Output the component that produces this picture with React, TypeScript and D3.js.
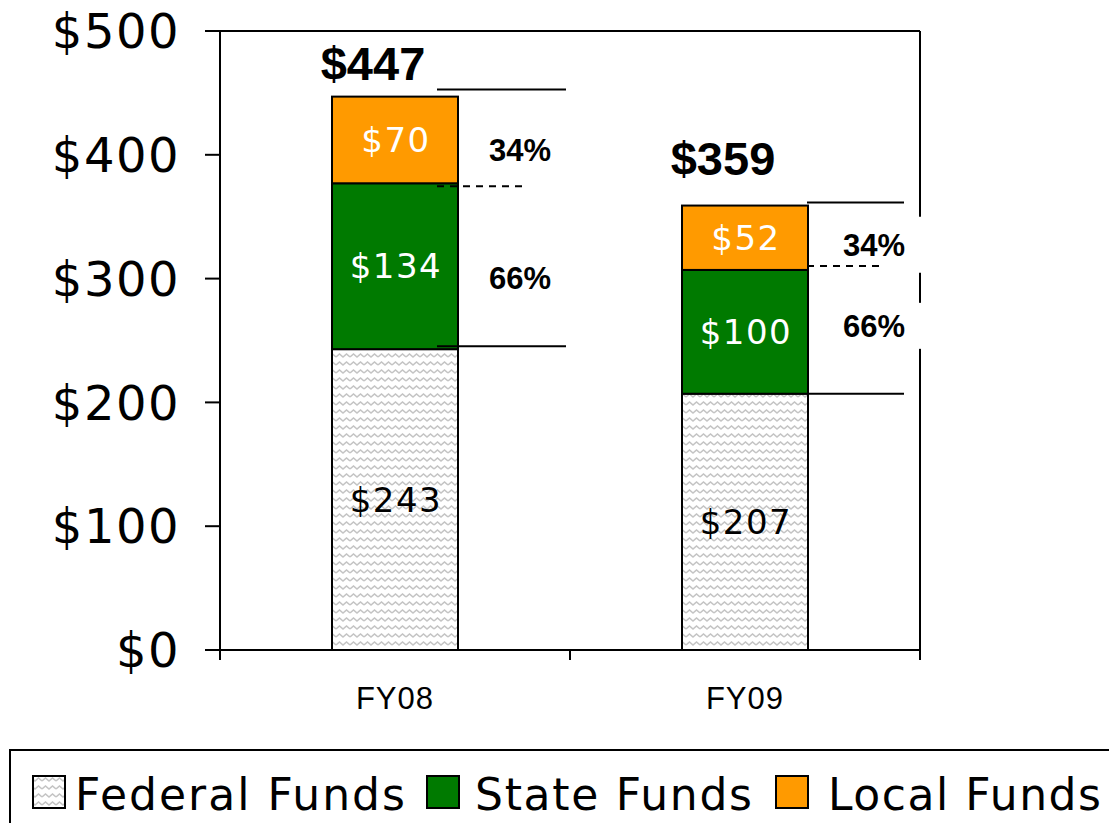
import * as d3 from 'd3'

const categories = ['FY08', 'FY09'];
const federal = [243, 207];
const stateFunds = [134, 100];
const local = [70, 52];
const totalLabels = ['$447', '$359'];
const localPct = ['34%', '34%'];
const statePct = ['66%', '66%'];
const yTicks = [0, 100, 200, 300, 400, 500];
const seriesNames = ['Federal Funds', 'State Funds', 'Local Funds'];
const seriesKeys = ['federal', 'state', 'local'];

function App() {
  const width = 1109;
  const height = 823;
  const left = 220;
  const right = 920;
  const top = 31;
  const bottom = 650;

  const x = d3.scaleBand().domain(categories).range([left, right]).paddingInner(0.64).paddingOuter(0.32);
  const y = d3.scaleLinear().domain([0, 500]).range([bottom, top]);

  const rows = categories.map((c, i) => ({ cat: c, federal: federal[i], state: stateFunds[i], local: local[i] }));
  const stacked = d3.stack<any>().keys(seriesKeys)(rows);

  const fills = ['url(#zig)', '#007a00', '#ff9a00'];
  const labelColors = ['#000', '#fff', '#fff'];
  const font = '"DejaVu Sans", Verdana, sans-serif';
  const arial = '"Liberation Sans", Arial, sans-serif';

  // annotation layout tweaks per bar
  const lineStart = [-21, -1];
  const lineLen = [129, 97];
  const dashLen = [91, 77];
  const topDy = [-7, -3];
  const midDy = [3, -4];
  const lowDy = [-3, 0];
  const pctX = [62, 66];
  const localPctDy = [10, 7];
  const statePctDy = [12, -6];
  const totalDx = [-22, -22];
  const totalDy = [-17, -31];

  // legend layout
  const swatchX = [33, 427, 776];
  const legendTextX = [75, 475, 828];
  const legendTextLen = [330, 277, 273];

  const bw = x.bandwidth();

  return (
    <svg width={width} height={height} style={{ position: 'absolute', left: 0, top: 0, background: '#fff' }}>
      <defs>
        <pattern id="zig" width="14" height="8" patternUnits="userSpaceOnUse">
          <rect width="14" height="8" fill="#fff" />
          <polyline points="0,5 3.5,2 7,5 10.5,2 14,5" fill="none" stroke="#c4c4c4" strokeWidth="1.6" />
        </pattern>
      </defs>

      {/* frame */}
      <line x1={205} x2={right} y1={top} y2={top} stroke="#000" strokeWidth={2} />
      <line x1={right} x2={right} y1={top} y2={bottom} stroke="#000" strokeWidth={2} />
      <line x1={left} x2={left} y1={top} y2={bottom} stroke="#000" strokeWidth={2} />
      <line x1={205} x2={right} y1={bottom} y2={bottom} stroke="#000" strokeWidth={2} />

      {yTicks.map(t => (
        <g key={t}>
          <line x1={205} x2={left} y1={y(t)} y2={y(t)} stroke="#000" strokeWidth={2} />
          <text x={180} y={y(t)} dy="0.36em" textAnchor="end" fontFamily={font} fontSize={48} letterSpacing={1.5}>${t}</text>
        </g>
      ))}

      {[left, (left + right) / 2, right].map(v => (
        <line key={v} x1={v} x2={v} y1={bottom} y2={bottom + 10} stroke="#000" strokeWidth={2} />
      ))}

      {categories.map(c => (
        <text key={c} x={x(c)! + bw / 2} y={709} textAnchor="middle" fontFamily={arial} fontSize={31} letterSpacing={1}>{c}</text>
      ))}

      {stacked.map((s, si) => s.map((d, i) => (
        <g key={si + '-' + i}>
          <rect x={x(categories[i])} y={y(d[1])} width={bw} height={y(d[0]) - y(d[1])}
            fill={fills[si]} stroke="#000" strokeWidth={2} />
          <text x={x(categories[i])! + bw / 2 + 1} y={(y(d[0]) + y(d[1])) / 2} dy="0.36em" textAnchor="middle"
            fill={labelColors[si]} fontFamily={font} fontSize={34} letterSpacing={1.5}>${d[1] - d[0]}</text>
        </g>
      )))}

      {categories.map((c, i) => {
        const bx = x(c)! + bw;
        const x0 = bx + lineStart[i];
        const topY = y(federal[i] + stateFunds[i] + local[i]);
        const midY = y(federal[i] + stateFunds[i]);
        const lowY = y(federal[i]);
        const px = bx + pctX[i];
        const ly = (topY + midY) / 2 + localPctDy[i];
        const sy = (midY + lowY) / 2 + statePctDy[i];
        return (
          <g key={c}>
            <rect x={px - 40} y={ly - 28} width={95} height={56} fill="#fff" />
            <rect x={px - 40} y={sy - 23} width={95} height={46} fill="#fff" />
            <line x1={x0} x2={x0 + lineLen[i]} y1={topY + topDy[i]} y2={topY + topDy[i]} stroke="#000" strokeWidth={2} />
            <line x1={x0} x2={x0 + dashLen[i]} y1={midY + midDy[i]} y2={midY + midDy[i]} stroke="#000" strokeWidth={2} strokeDasharray="7,6" />
            <line x1={x0} x2={x0 + lineLen[i]} y1={lowY + lowDy[i]} y2={lowY + lowDy[i]} stroke="#000" strokeWidth={2} />
            <text x={px} y={ly} dy="0.36em" textAnchor="middle" fontFamily={arial} fontWeight="bold" fontSize={31}>{localPct[i]}</text>
            <text x={px} y={sy} dy="0.36em" textAnchor="middle" fontFamily={arial} fontWeight="bold" fontSize={31}>{statePct[i]}</text>
            <text x={x(c)! + bw / 2 + totalDx[i]} y={topY + totalDy[i]} textAnchor="middle" fontFamily={arial} fontWeight="bold" fontSize={47}>{totalLabels[i]}</text>
          </g>
        );
      })}

      {/* legend */}
      <rect x={10} y={750} width={1120} height={100} fill="#fff" stroke="#000" strokeWidth={2} />
      {seriesNames.map((n, i) => (
        <g key={n}>
          <rect x={swatchX[i]} y={776} width={32} height={32} fill={fills[i]} stroke="#000" strokeWidth={2} />
          <text x={legendTextX[i]} y={810} fontFamily={font} fontSize={44}
            textLength={legendTextLen[i]} lengthAdjust="spacing">{n}</text>
        </g>
      ))}
    </svg>
  );
}

export default App;
